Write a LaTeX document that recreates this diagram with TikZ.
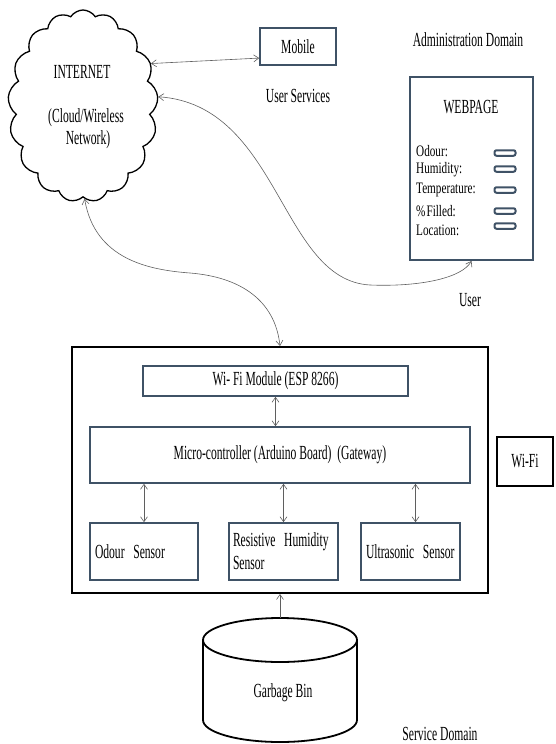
\documentclass[tikz,border=0pt]{standalone}
\usepackage{fontspec}
\setmainfont{Liberation Serif}[FakeStretch=0.58]
\newfontfamily\fieldfont{Liberation Serif}[FakeStretch=0.7]
\usepackage{tikz}
\usetikzlibrary{shapes.symbols,arrows.meta,calc}
\definecolor{slate}{RGB}{63,82,102}
\definecolor{wire}{RGB}{95,95,95}

\begin{document}
\begin{tikzpicture}[x=1pt,y=1pt,yscale=-1,xscale=1,
  every node/.style={font=\fontsize{20}{22}\selectfont},
  block/.style={draw=slate,line width=1.6pt,inner sep=0pt},
  frame/.style={draw=black,line width=2pt,inner sep=0pt},
  sensor/.style={block,minimum height=57pt,align=left},
  field/.style={anchor=west,inner sep=0pt,font=\fieldfont\fontsize{16}{18}\selectfont},
  bar/.style={draw=slate,line width=2pt,fill=white,rounded corners=2pt,minimum width=21pt,minimum height=5.5pt,inner sep=0pt},
  link/.style={draw=wire,line width=0.6pt,{Straight Barb[length=5pt,width=7pt]}-{Straight Barb[length=5pt,width=7pt]}}]
\useasboundingbox (0,0) rectangle (555,744);

%Shape: Cloud
\node (internet) at (83,106) [cloud,draw,line width=1.3pt,cloud puffs=17,cloud puff arc=115,cloud ignores aspect,minimum width=150pt,minimum height=192pt] {};
% Text Node
\node (inettitle) at (82,72) {INTERNET};
% Text Node
\node (inetsub) at (86,118) {(Cloud/Wireless};
% Text Node
\node (inetsubb) at (88,140) {Network)};

%Shape: Rectangle
\node (mobile) at (298,46.5) [block,minimum width=76pt,minimum height=37pt] {Mobile};
% Text Node
\node (usersrv) at (298,96) {User Services};
% Text Node
\node (admin) at (468,40) {Administration Domain};

%Shape: Rectangle
\node (webpage) at (471.5,168.5) [block,line width=1.8pt,minimum width=123pt,minimum height=183pt] {};
% Text Node
\node (webtitle) at (471,107) {WEBPAGE};
% Text Node
\node (fodour) at (416,151) [field] {Odour:};
\node (fhumid) at (416,170) [field] {Humidity:};
\node (ftemp) at (416,190) [field] {Temperature:};
\node (ffill) at (416,211) [field] {\%\hspace{1pt}Filled:};
\node (floc) at (416,230) [field] {Location:};
%Shape: Rounded Rectangle
\node (bodour) at (505,153) [bar] {};
\node (bhumid) at (505,169) [bar] {};
\node (btemp) at (505,190) [bar] {};
\node (bfill) at (505,211) [bar] {};
\node (bloc) at (505,226) [bar] {};
% Text Node
\node (user) at (470,300) {User};

%Shape: Rectangle
\node (device) at (280,470) [frame,minimum width=416pt,minimum height=246pt] {};
%Shape: Rectangle
\node (wifimod) at (275.5,381) [block,minimum width=265pt,minimum height=30pt] {Wi- Fi Module (ESP 8266)};
%Shape: Rectangle
\node (micro) at (280,455) [block,minimum width=380pt,minimum height=56pt] {Micro-controller (Arduino Board)\ \ (Gateway)};
%Shape: Rectangle
\node (odour) at (144,551.5) [sensor,text width=98pt,inner xsep=5pt] {Odour\hspace{2pt} Sensor};
%Shape: Rectangle
\node (resist) at (283.5,551.5) [sensor,text width=101pt,inner xsep=4pt] {Resistive\hspace{2pt} Humidity\\[1pt]Sensor};
%Shape: Rectangle
\node (ultra) at (410.5,551.5) [sensor,text width=89pt,inner xsep=5pt] {Ultrasonic\hspace{2pt} Sensor};

%Shape: Rectangle
\node (wifi) at (525,461.5) [frame,minimum width=56pt,minimum height=49pt] {Wi-Fi};

%Shape: Can
\draw [line width=1.8pt] (280,640) ellipse [x radius=77,y radius=22];
\draw [line width=1.8pt] (203,640) -- (203,720) arc [start angle=180,end angle=0,x radius=77,y radius=22] -- (357,640);
\coordinate (bintop) at (280,618);
% Text Node
\node (bin) at (283,693) {Garbage Bin};
% Text Node
\node (service) at (440,734) {Service Domain};

%Straight Lines
\draw [link] (internet.32) -- ($(mobile.west)!0.6!(mobile.south west)$);
\draw [link] (wifimod.south) -- (wifimod.south |- micro.north);
\draw [link] (micro.south -| odour) -- (odour.north);
\draw [link] (micro.south -| resist) -- (resist.north);
\draw [link] ($(micro.south -| ultra)+(5,0)$) -- ($(ultra.north)+(5,0)$);
\draw [draw=wire,line width=0.6pt,-{Straight Barb[length=5pt,width=7pt]}] (bintop) -- (bintop |- device.south);
%Curve Lines
\draw [link] (internet.7) .. controls (280,105) and (280,280) .. (370,285) .. controls (420,287) and (462,278) .. (webpage.south);
\draw [link] (internet.-89) .. controls (95,260) and (150,270) .. (190,273) .. controls (240,277) and (275,300) .. (device.north);

\end{tikzpicture}
\end{document}
